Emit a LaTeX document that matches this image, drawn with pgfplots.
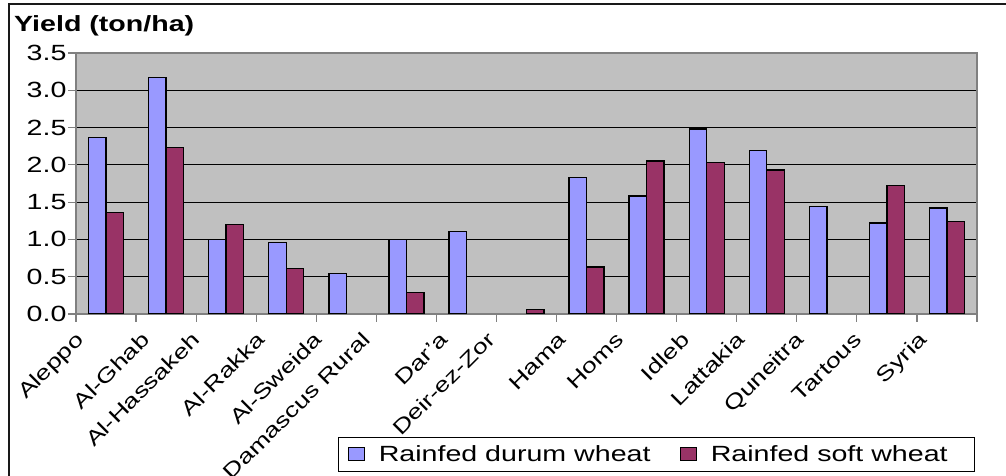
\documentclass[border=0pt]{standalone}
\usepackage{fontspec}
\setmainfont{Liberation Sans}[FakeStretch=1.3]
\usepackage{pgfplots}
\pgfplotsset{compat=1.18}
\definecolor{durum}{RGB}{153,153,255}
\definecolor{soft}{RGB}{153,51,102}
\definecolor{plotbg}{RGB}{192,192,192}
\definecolor{axgray}{RGB}{128,128,128}
\begin{document}
\begin{tikzpicture}[x=1pt,y=1pt]
\useasboundingbox (0,0) rectangle (1006,476);
\draw[line width=2pt, black!90] (9,0) -- (9,472) -- (1006,472);
\node[anchor=base west, inner sep=0pt, font=\fontsize{22}{26}\selectfont\bfseries] at (14,444) {Yield (ton/ha)};
\begin{axis}[
  at={(76pt,162pt)}, anchor=south west,
  scale only axis, width=901pt, height=261pt,
  xmin=-0.5, xmax=14.5, ymin=0, ymax=3.5,
  axis background/.style={fill=plotbg},
  axis line style={draw=axgray, line width=1.5pt},
  ybar=0pt, bar width=17.5pt,
  ymajorgrids, grid style={black, line width=0.9pt},
  ytick={0,0.5,...,3.5},
  yticklabel style={/pgf/number format/fixed, /pgf/number format/fixed zerofill, /pgf/number format/precision=1, /pgf/number format/assume math mode=true},
  yticklabel style={font=\fontsize{22}{26}\selectfont, xshift=2pt},
  xtick={-0.5,0.5,...,14.5}, xticklabels={},
  tick align=outside, xtick pos=bottom, ytick pos=left,
  major tick length=8pt,
  tick style={draw=axgray, line width=1.2pt},
  extra x ticks={0,...,14},
  extra x tick labels={Aleppo,Al-Ghab,Al-Hassakeh,Al-Rakka,Al-Sweida,Damascus Rural,Dar’a,Deir-ez-Zor,Hama,Homs,Idleb,Lattakia,Quneitra,Tartous,Syria},
  extra x tick style={major tick length=0pt, tick style={draw=none},
    tick label style={xshift={{-21,-15,-25,-20,-23,-35,-17,-30,-19,-22,-16,-21,-22,-24,-19}[\ticknum]}, yshift=-27pt, rotate=45, anchor=base east, font=\fontsize{20.5}{24}\selectfont, inner sep=0pt}},
  legend columns=2,
  legend style={at={(axis description cs:0.998,-0.605)}, anchor=south east,
    draw=black, line width=1pt, font=\fontsize{22}{26}\selectfont,
    inner xsep=9pt, inner ysep=6pt,
    nodes={inner xsep=0pt},
    /tikz/every odd column/.append style={column sep=14pt},
    /tikz/every even column/.append style={column sep=29pt}},
  legend image code/.code={\draw[#1, line width=1.2pt] (0pt,-6pt) rectangle (16pt,7pt);},
]
\addplot[fill=durum, draw=black, line width=1.4pt] coordinates {
 (0,2.37) (1,3.17) (2,1.00) (3,0.96) (4,0.54) (5,1.00) (6,1.11)
 (8,1.83) (9,1.58) (10,2.48) (11,2.19) (12,1.44) (13,1.22) (14,1.42)};
\addplot[fill=soft, draw=black, line width=1.4pt] coordinates {
 (0,1.36) (1,2.23) (2,1.20) (3,0.61) (5,0.29) (7,0.06)
 (8,0.63) (9,2.05) (10,2.03) (11,1.93) (13,1.72) (14,1.24)};
\legend{Rainfed durum wheat, Rainfed soft wheat\hspace*{18pt}}
\end{axis}
\end{tikzpicture}
\end{document}
